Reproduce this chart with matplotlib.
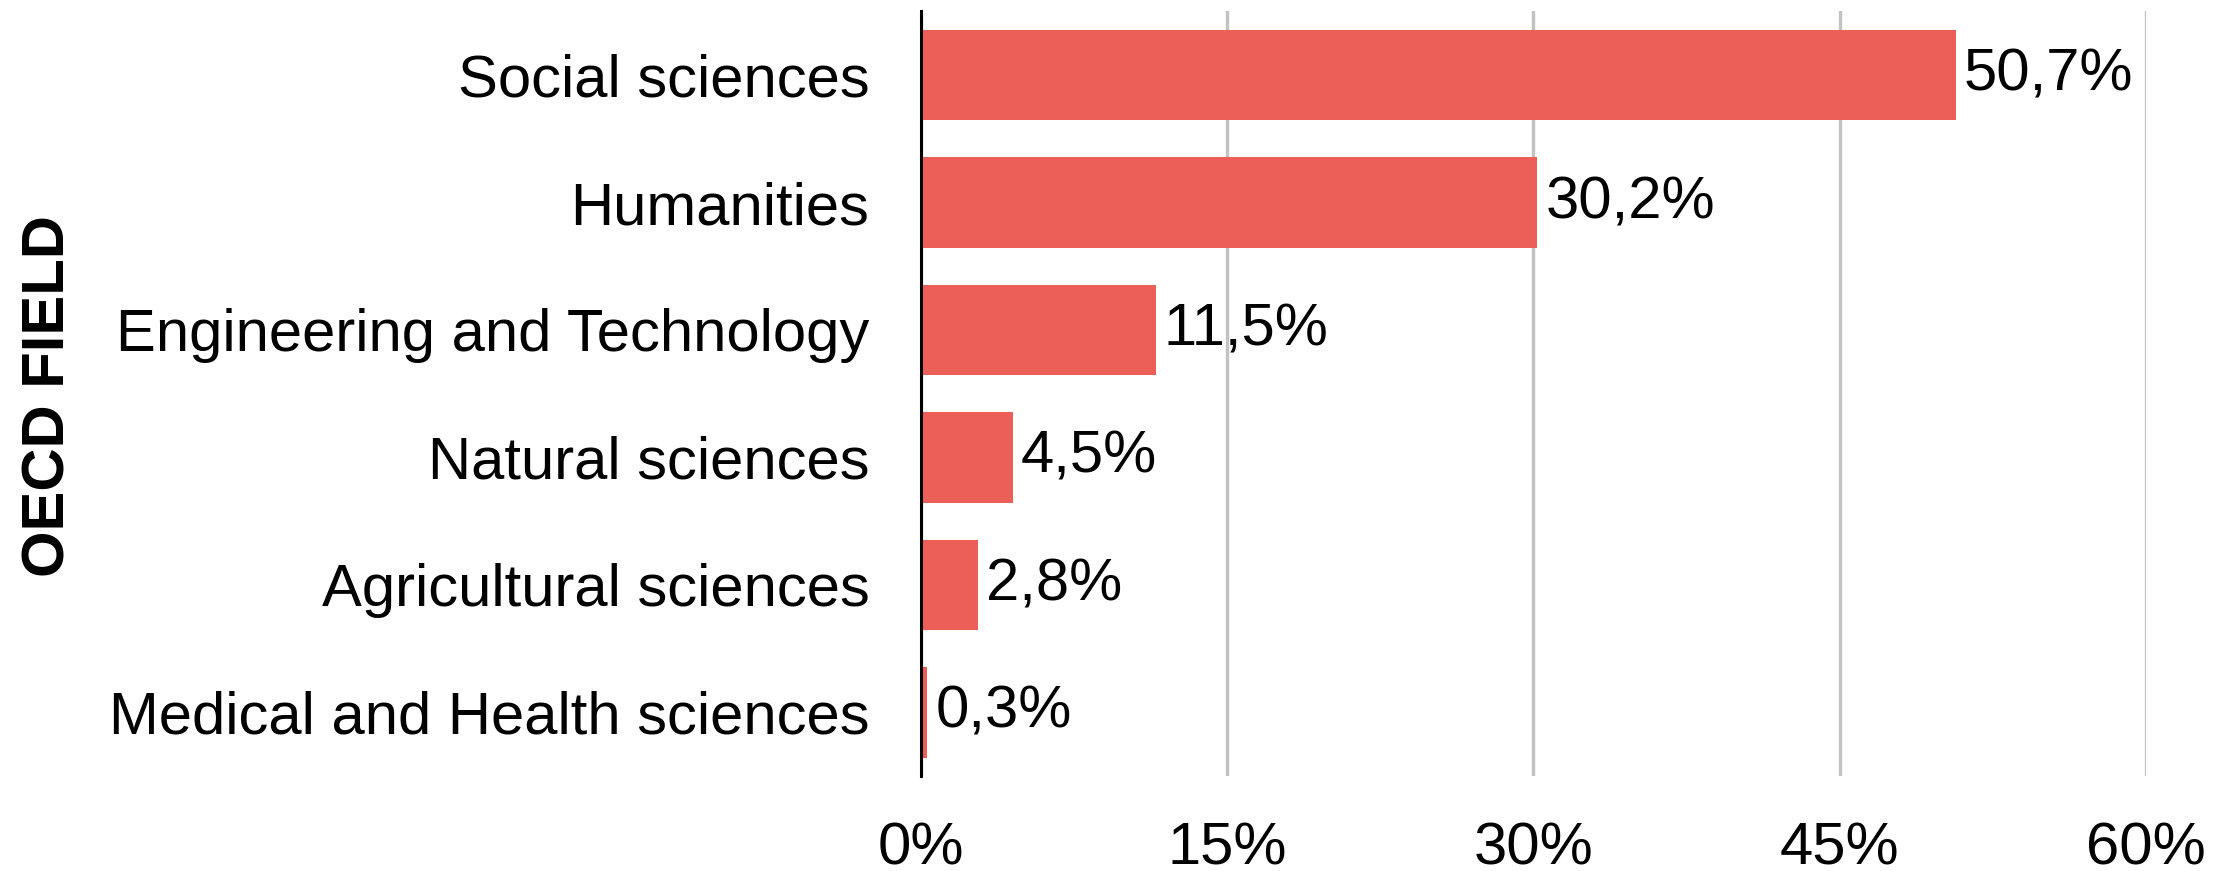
import matplotlib
matplotlib.use("Agg")
import matplotlib.pyplot as plt

# data
fields = ["Social sciences", "Humanities", "Engineering and Technology",
          "Natural sciences", "Agricultural sciences", "Medical and Health sciences"]
shares = [50.7, 30.2, 11.5, 4.5, 2.8, 0.3]
x_ticks = [0, 15, 30, 45, 60]

BAR_COLOR = "#EC5E58"
FONT = ["Liberation Sans", "DejaVu Sans"]

plt.rcParams["font.family"] = FONT

fig = plt.figure(figsize=(22.19, 8.71), dpi=100)
ax = fig.add_axes([0.415, 0.109, 0.552, 0.878])

ypos = list(range(len(fields)))
ax.barh(ypos, shares, height=0.71, color=BAR_COLOR, zorder=2)

for y, v in zip(ypos, shares):
    ax.text(v + 0.4, y, f"{v:.1f}%".replace(".", ","), va="center", ha="left",
            fontsize=43, color="black", zorder=3)

ax.set_xlim(0, 60)
ax.set_ylim(len(fields) - 0.5, -0.5)
ax.set_xticks(x_ticks)
ax.set_xticklabels([f"{t}%" for t in x_ticks])
ax.set_yticks(ypos)
ax.set_yticklabels(fields)
ax.tick_params(axis="both", length=0, labelsize=43)
ax.tick_params(axis="x", pad=33)
ax.tick_params(axis="y", pad=37)

ax.xaxis.grid(True, color="#C2C2C2", linewidth=2.4, zorder=0)
ax.set_axisbelow(True)
for s in ["top", "right", "bottom"]:
    ax.spines[s].set_visible(False)
ax.spines["left"].set_linewidth(2.2)
ax.spines["left"].set_zorder(4)

fig.text(0.022, 0.545, "OECD FIELD", rotation=90, ha="center", va="center",
         fontsize=43, fontweight="bold")

fig.savefig("out.png", dpi=100)
